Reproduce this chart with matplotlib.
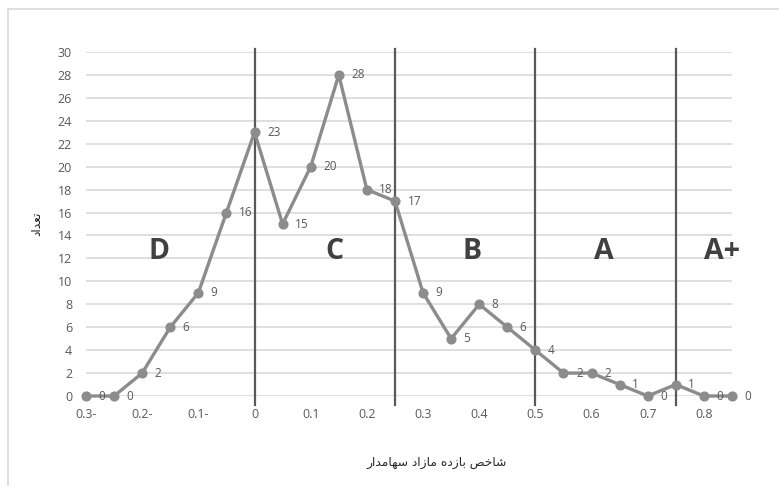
import numpy as np
import matplotlib
matplotlib.use("Agg")
from matplotlib import pyplot as plt
from matplotlib.lines import Line2D

# data
x_values = [-0.3, -0.25, -0.2, -0.15, -0.1, -0.05, 0, 0.05, 0.1, 0.15, 0.2, 0.25,
            0.3, 0.35, 0.4, 0.45, 0.5, 0.55, 0.6, 0.65, 0.7, 0.75, 0.8, 0.85]
counts = [0, 0, 2, 6, 9, 16, 23, 15, 20, 28, 18, 17,
          9, 5, 8, 6, 4, 2, 2, 1, 0, 1, 0, 0]
x_ticks = [-0.3, -0.2, -0.1, 0, 0.1, 0.2, 0.3, 0.4, 0.5, 0.6, 0.7, 0.8]
x_tick_labels = ["0.3-", "0.2-", "0.1-", "0", "0.1", "0.2", "0.3", "0.4", "0.5", "0.6", "0.7", "0.8"]
boundaries = [0, 0.25, 0.5, 0.75]
grades = ["D", "C", "B", "A", "A+"]
grade_x = [-0.17, 0.142, 0.387, 0.622, 0.832]
x_title = "شاخص بازده مازاد سهامدار"
y_title = "تعداد"

# simple arabic shaping (presentation forms) since matplotlib does not shape
FORMS = {
    'ا': ('\uFE8D', '\uFE8E'),
    'ب': ('\uFE8F', '\uFE90', '\uFE91', '\uFE92'),
    'ت': ('\uFE95', '\uFE96', '\uFE97', '\uFE98'),
    'خ': ('\uFEA5', '\uFEA6', '\uFEA7', '\uFEA8'),
    'د': ('\uFEA9', '\uFEAA'),
    'ر': ('\uFEAD', '\uFEAE'),
    'ز': ('\uFEAF', '\uFEB0'),
    'س': ('\uFEB1', '\uFEB2', '\uFEB3', '\uFEB4'),
    'ش': ('\uFEB5', '\uFEB6', '\uFEB7', '\uFEB8'),
    'ص': ('\uFEB9', '\uFEBA', '\uFEBB', '\uFEBC'),
    'ع': ('\uFEC9', '\uFECA', '\uFECB', '\uFECC'),
    'م': ('\uFEE1', '\uFEE2', '\uFEE3', '\uFEE4'),
    'ه': ('\uFEE9', '\uFEEA', '\uFEEB', '\uFEEC'),
}


def shape(text):
    out = []
    for i, ch in enumerate(text):
        if ch not in FORMS:
            out.append(ch)
            continue
        prev = text[i - 1] if i > 0 else ''
        nxt = text[i + 1] if i + 1 < len(text) else ''
        f = FORMS[ch]
        join_prev = prev in FORMS and len(FORMS[prev]) == 4
        join_next = len(f) == 4 and nxt in FORMS
        if join_prev and join_next:
            out.append(f[3])
        elif join_prev:
            out.append(f[1])
        elif join_next:
            out.append(f[2])
        else:
            out.append(f[0])
    return ''.join(reversed(out))


plt.rcParams['font.family'] = ['Open Sans', 'DejaVu Sans']

fig = plt.figure(figsize=(7.79, 4.86), dpi=100)
ax = fig.add_axes([86 / 779, 1 - 396 / 486, (732 - 86) / 779, (396 - 52) / 486])

ax.set_xlim(-0.3, 0.85)
ax.set_ylim(0, 30)
ax.set_yticks(range(0, 31, 2))
ax.yaxis.grid(True, color="#d9d9d9", linewidth=1.2)
ax.set_axisbelow(True)
for s in ax.spines.values():
    s.set_visible(False)
ax.tick_params(length=0, labelsize=9, labelcolor="#595959")
ax.tick_params(axis='y', pad=10)
ax.tick_params(axis='x', pad=9)
ax.set_xticks(x_ticks)
ax.set_xticklabels(x_tick_labels)

for b in boundaries:
    ax.plot([b, b], [-0.8, 30.3], color="#595959", linewidth=1.6, clip_on=False, zorder=3)

ax.plot(x_values, counts, color="#8c8c8c", linewidth=2.4, marker="o", markersize=6.3,
        zorder=4, clip_on=False)

for xv, c in zip(x_values, counts):
    ax.annotate(str(c), (xv, c), xytext=(9, 0), textcoords="offset points",
                ha="left", va="center", fontsize=8.5, color="#595959", zorder=5)

for g, gx in zip(grades, grade_x):
    ax.text(gx, 12.6, g, ha="center", va="center", fontsize=20.5, fontweight="bold",
            color="#404040")

fig.text(437 / 779, 1 - 462 / 486, shape(x_title), ha="center", va="center",
         fontsize=8.8, color="#262626", family="DejaVu Sans")
fig.text(37 / 779, 1 - 224 / 486, shape(y_title), ha="center", va="center",
         fontsize=8.8, color="#262626", family="DejaVu Sans", rotation=90)

# outer chart border
fig.add_artist(Line2D([8 / 779, 1], [1 - 9 / 486, 1 - 9 / 486], transform=fig.transFigure,
                      color="#d9d9d9", linewidth=1.2))
fig.add_artist(Line2D([8 / 779, 8 / 779], [0, 1 - 9 / 486], transform=fig.transFigure,
                      color="#d9d9d9", linewidth=1.2))

fig.savefig("out.png", dpi=100)
